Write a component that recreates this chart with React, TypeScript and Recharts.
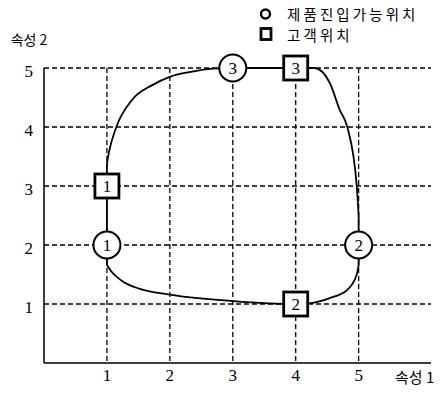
import {
  ComposedChart,
  Line,
  Scatter,
  XAxis,
  YAxis,
  CartesianGrid,
  Legend,
} from "recharts";

interface Pt {
  x: number;
  y: number;
  label?: string;
}

const xTicks = [1, 2, 3, 4, 5];
const yTicks = [1, 2, 3, 4, 5];

const productName = "제품진입가능위치";
const customerName = "고객위치";
const legendOrder = [productName, customerName];

// circles
const productPositions: Pt[] = [
  { x: 1, y: 2, label: "1" },
  { x: 5, y: 2, label: "2" },
  { x: 3, y: 5, label: "3" },
];

// squares
const customerPositions: Pt[] = [
  { x: 1, y: 3, label: "1" },
  { x: 4, y: 1, label: "2" },
  { x: 4, y: 5, label: "3" },
];

// closed contour in pieces
const leftEdge: Pt[] = [
  { x: 1, y: 1.66 },
  { x: 1, y: 2 },
  { x: 1, y: 3 },
  { x: 1, y: 3.37 },
];
const topEdge: Pt[] = [
  { x: 1, y: 3.37 },
  { x: 1.03, y: 3.56 },
  { x: 1.15, y: 4.0 },
  { x: 1.4, y: 4.46 },
  { x: 1.72, y: 4.71 },
  { x: 2.0, y: 4.85 },
  { x: 2.31, y: 4.93 },
  { x: 2.68, y: 4.99 },
  { x: 3, y: 5 },
  { x: 4, y: 5 },
  { x: 4.3, y: 5 },
  { x: 4.54, y: 4.75 },
  { x: 4.7, y: 4.29 },
  { x: 4.82, y: 4.0 },
  { x: 4.97, y: 3.0 },
  { x: 5, y: 2.5 },
];
const rightEdge: Pt[] = [
  { x: 5, y: 2.5 },
  { x: 5, y: 2 },
  { x: 5, y: 1.66 },
];
const bottomEdge: Pt[] = [
  { x: 1, y: 1.66 },
  { x: 1.07, y: 1.55 },
  { x: 1.24, y: 1.39 },
  { x: 1.51, y: 1.26 },
  { x: 2, y: 1.16 },
  { x: 3, y: 1.05 },
  { x: 4, y: 1 },
  { x: 4.27, y: 1.02 },
  { x: 4.54, y: 1.1 },
  { x: 4.81, y: 1.23 },
  { x: 4.97, y: 1.5 },
  { x: 5, y: 1.66 },
];

const serif = "'Liberation Serif', 'DejaVu Serif', serif";
const korean = "'Noto Sans CJK KR', 'Noto Sans', sans-serif";

function CircleMark(props: any) {
  const { cx, cy, payload } = props;
  return (
    <g>
      <circle cx={cx} cy={cy} r={13.5} fill="#fff" stroke="#000" strokeWidth={2} />
      <text x={cx} y={cy + 6} textAnchor="middle" fontFamily={serif} fontSize={17} fill="#000">
        {payload.label}
      </text>
    </g>
  );
}

function SquareMark(props: any) {
  const { cx, cy, payload } = props;
  return (
    <g>
      <rect x={cx - 12} y={cy - 12} width={24} height={24} fill="#fff" stroke="#000" strokeWidth={2.8} />
      <text x={cx} y={cy + 6} textAnchor="middle" fontFamily={serif} fontSize={17} fill="#000">
        {payload.label}
      </text>
    </g>
  );
}

function LegendBox(props: any) {
  const items = (props.payload || [])
    .filter((p: any) => p.type !== "none")
    .sort((a: any, b: any) => legendOrder.indexOf(a.value) - legendOrder.indexOf(b.value));
  return (
    <div style={{ fontFamily: korean, fontSize: 14.5, letterSpacing: 3.1, color: "#000" }}>
      {items.map((p: any) => (
        <div key={p.value} style={{ display: "flex", alignItems: "center", height: 21 }}>
          <svg width={29} height={21} style={{ flex: "none", display: "block" }}>
            {p.type === "circle" ? (
              <circle cx={7.5} cy={11} r={4.5} fill="none" stroke="#000" strokeWidth={2.4} />
            ) : (
              <rect x={3} y={4.5} width={10} height={11} fill="none" stroke="#000" strokeWidth={2.8} />
            )}
          </svg>
          <span style={{ display: "block", lineHeight: "21px", whiteSpace: "nowrap" }}>{p.value}</span>
        </div>
      ))}
    </div>
  );
}

const tickStyle = { fontSize: 17, fill: "#000", fontFamily: serif };

export default function App() {
  return (
    <div style={{ width: 436, height: 385, background: "#fff" }}>
      <ComposedChart width={436} height={385} margin={{ top: 60, right: 13, bottom: 0, left: 0 }}>
        <CartesianGrid
          stroke="#000"
          strokeWidth={1.3}
          strokeDasharray="5 3"
          horizontalValues={yTicks}
          verticalValues={xTicks}
        />
        <XAxis
          type="number"
          dataKey="x"
          domain={[0, 6.15]}
          ticks={xTicks}
          height={30}
          tickLine={false}
          tickMargin={0}
          axisLine={{ stroke: "#000", strokeWidth: 1.5 }}
          tick={tickStyle}
          label={{
            value: "속성 1",
            position: "right",
            offset: -36,
            fontSize: 15,
            fill: "#000",
            fontFamily: korean,
          }}
        />
        <YAxis
          type="number"
          dataKey="y"
          domain={[0, 5]}
          ticks={yTicks}
          width={36}
          tickLine={false}
          tickMargin={5}
          axisLine={{ stroke: "#000", strokeWidth: 1.5 }}
          tick={{ ...tickStyle, dy: 3 }}
          label={{
            value: "속성 2",
            position: "top",
            offset: 23,
            dx: 3,
            fontSize: 14,
            fill: "#000",
            fontFamily: korean,
          }}
        />
        <Line data={leftEdge} dataKey="y" type="linear" stroke="#000" strokeWidth={1.8} dot={false} legendType="none" isAnimationActive={false} />
        <Line data={topEdge} dataKey="y" type="monotone" stroke="#000" strokeWidth={1.8} dot={false} legendType="none" isAnimationActive={false} />
        <Line data={rightEdge} dataKey="y" type="linear" stroke="#000" strokeWidth={1.8} dot={false} legendType="none" isAnimationActive={false} />
        <Line data={bottomEdge} dataKey="y" type="monotone" stroke="#000" strokeWidth={1.8} dot={false} legendType="none" isAnimationActive={false} />
        <Scatter name={productName} data={productPositions} legendType="circle" fill="#000" shape={CircleMark} isAnimationActive={false} />
        <Scatter name={customerName} data={customerPositions} legendType="square" fill="#000" shape={SquareMark} isAnimationActive={false} />
        <Legend
          layout="vertical"
          align="center"
          verticalAlign="middle"
          content={LegendBox}
          wrapperStyle={{ top: -5, left: 250, width: 186, height: 42 }}
        />
      </ComposedChart>
    </div>
  );
}
